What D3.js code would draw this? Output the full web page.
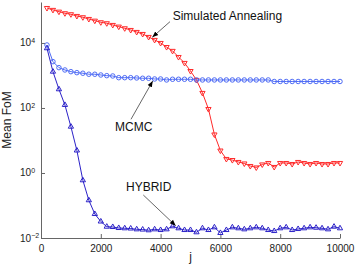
<!DOCTYPE html>
<html>
<head>
<meta charset="utf-8">
<script src="https://cdn.jsdelivr.net/npm/d3@7"></script>
<style>
  html, body { margin: 0; padding: 0; background: #fff; }
  svg { display: block; font-family: "Liberation Sans", Arial, sans-serif; }
</style>
</head>
<body>
<div id="chart"></div>
<script>
const width = 357;
const height = 267;
const margin = { top: 2, right: 17, bottom: 29, left: 41 };

// iteration index j, one sample every 200
const jValues = d3.range(200, 10001, 200);

// Simulated Annealing
const saValues = [
  1.19e5, 1.04e5, 9.18e4, 8.2e4, 7.64e4, 6.77e4, 6.18e4, 5.47e4, 4.85e4, 4.33e4,
  4.04e4, 3.58e4, 3.18e4, 2.83e4, 2.51e4, 2.18e4, 1.89e4, 1.53e4, 1.24e4, 1.0e4,
  7.5e3, 5.7e3, 3.7e3, 2.43e3, 1.37e3, 728, 290, 93, 15.3, 4.9,
  2.7, 2.5, 2.18, 1.96, 1.64, 1.48, 1.83, 2.03, 1.53, 2.03,
  2.03, 1.89, 2.18, 2.03, 1.89, 2.03, 1.89, 1.89, 2.03, 2.03
];

// MCMC
const mcmcValues = [
  8670, 2660, 1740, 1476, 1310, 1220, 1170, 1090, 1090, 1035,
  986, 965, 855, 855, 855, 838, 820, 820, 780, 780,
  728, 764, 764, 764, 764, 728, 728, 728, 728, 728,
  728, 728, 728, 728, 728, 728, 728, 728, 653, 653,
  653, 653, 653, 653, 653, 653, 653, 653, 653, 653
];

// HYBRID
const hybridValues = [
  6870, 1310, 376, 124, 26.6, 4.92, 0.596, 0.145, 0.0547, 0.0322,
  0.0223, 0.0218, 0.0203, 0.0199, 0.0196, 0.0185, 0.0182, 0.0173, 0.0185, 0.0176,
  0.0185, 0.0229, 0.0199, 0.0176, 0.0176, 0.0150, 0.0199, 0.0176, 0.0213, 0.0143,
  0.0176, 0.0213, 0.0199, 0.0185, 0.0199, 0.0213, 0.0199, 0.0176, 0.0164, 0.0199,
  0.0213, 0.0176, 0.0189, 0.0199, 0.0213, 0.0207, 0.0199, 0.0185, 0.0223, 0.0199
];

const xTicks = [0, 2000, 4000, 6000, 8000, 10000];
const yTickExponents = [-2, 0, 2, 4];

// annotation text and arrow, in data units
const annotations = [
  { label: "Simulated Annealing", tx: 4405, ty: 10 ** 4.70, from: [4314, 10 ** 4.655], to: [3722, 10 ** 4.175] },
  { label: "MCMC", tx: 2475, ty: 10 ** 1.29, from: [3010, 10 ** 1.652], to: [3736, 10 ** 2.83] },
  { label: "HYBRID", tx: 2843, ty: 10 ** -0.545, from: [3421, 10 ** -0.677], to: [4505, 10 ** -1.622] }
];

const svg = d3.select("#chart").append("svg")
  .attr("width", width)
  .attr("height", height);

const x = d3.scaleLinear()
  .domain([0, 10000])
  .range([margin.left, width - margin.right]);

const y = d3.scaleLog()
  .domain([1e-2, 10 ** 5.26])
  .range([height - margin.bottom, margin.top]);

svg.append("defs").append("marker")
  .attr("id", "arrowhead")
  .attr("viewBox", "0 0 10 10")
  .attr("refX", 10)
  .attr("refY", 5)
  .attr("markerWidth", 6)
  .attr("markerHeight", 6)
  .attr("markerUnits", "userSpaceOnUse")
  .attr("orient", "auto")
  .append("path")
  .attr("d", "M0,1 L10,5 L0,9 Z")
  .attr("fill", "#000");

// axes
const xAxis = svg.append("g")
  .attr("transform", `translate(0,${height - margin.bottom})`)
  .call(d3.axisBottom(x).tickValues(xTicks).tickFormat(d3.format("d"))
    .tickSizeInner(-4).tickSizeOuter(0).tickPadding(7));

const yAxis = svg.append("g")
  .attr("transform", `translate(${margin.left},0)`)
  .call(d3.axisLeft(y).tickValues(yTickExponents.map(e => 10 ** e)).tickSizeInner(-4).tickSizeOuter(0).tickFormat(""));

[xAxis, yAxis].forEach(g => {
  g.select(".domain").attr("stroke", "#666").attr("stroke-width", 1);
  g.selectAll(".tick line").attr("stroke", "#666");
});
xAxis.selectAll(".tick text").attr("font-size", 10).attr("fill", "#222")
  .attr("font-family", "Liberation Sans, Arial, sans-serif");

yTickExponents.forEach(e => {
  const t = svg.append("text")
    .attr("x", 20)
    .attr("y", y(10 ** e))
    .attr("dy", "0.35em")
    .attr("font-size", 10)
    .attr("fill", "#222");
  t.append("tspan").text("10");
  t.append("tspan").attr("dy", "-0.45em").attr("font-size", 7).text(e < 0 ? "\u2212" + (-e) : e);
});

// axis titles
svg.append("text")
  .attr("x", (x(0) + x(10000)) / 2)
  .attr("y", 261)
  .attr("text-anchor", "middle")
  .attr("font-size", 12)
  .attr("fill", "#222")
  .text("j");

svg.append("text")
  .attr("transform", `translate(11,${(y.range()[0] + y.range()[1]) / 2}) rotate(-90)`)
  .attr("text-anchor", "middle")
  .attr("font-size", 12)
  .attr("fill", "#222")
  .text("Mean FoM");

const line = d3.line()
  .x(d => x(d[0]))
  .y(d => y(d[1]));

function drawSeries(values, color, shape) {
  const pts = jValues.map((j, i) => [j, values[i]]);
  svg.append("path")
    .datum(pts)
    .attr("d", line)
    .attr("fill", "none")
    .attr("stroke", color)
    .attr("stroke-width", 1);
  const sym = d3.symbol().type(shape === "circle" ? d3.symbolCircle : d3.symbolTriangle).size(shape === "circle" ? 16 : 12);
  svg.append("g").selectAll("path")
    .data(pts)
    .join("path")
    .attr("d", sym)
    .attr("transform", d => `translate(${x(d[0])},${y(d[1])})` + (shape === "down" ? " rotate(180)" : ""))
    .attr("fill", "none")
    .attr("stroke", color)
    .attr("stroke-width", 1);
}

drawSeries(saValues, "#ff2a2a", "down");
drawSeries(mcmcValues, "#4f6cf5", "circle");
drawSeries(hybridValues, "#2c22c8", "up");

// annotations
annotations.forEach(a => {
  svg.append("line")
    .attr("x1", x(a.from[0])).attr("y1", y(a.from[1]))
    .attr("x2", x(a.to[0])).attr("y2", y(a.to[1]))
    .attr("stroke", "#000")
    .attr("stroke-width", 0.6)
    .attr("marker-end", "url(#arrowhead)");
  svg.append("text")
    .attr("x", x(a.tx))
    .attr("y", y(a.ty))
    .attr("font-size", 12)
    .attr("fill", "#111")
    .text(a.label);
});
</script>
</body>
</html>
